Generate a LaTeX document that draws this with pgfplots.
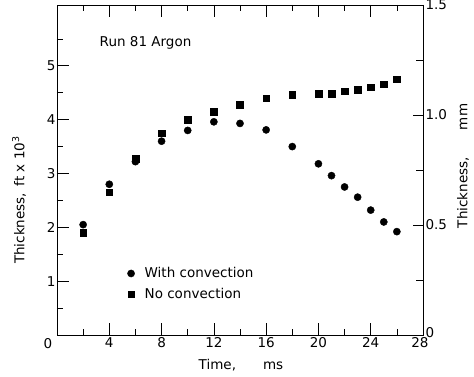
\documentclass[border=0pt]{standalone}
\usepackage{fontspec}
\setmainfont{DejaVu Sans}
\usepackage{pgfplots}
\pgfplotsset{compat=1.18}
\begin{document}
\begin{tikzpicture}[font=\fontsize{13.5}{16}\selectfont]
\pgfplotsset{
  common/.style={
    scale only axis, width=366pt, height=330pt,
    at={(0pt,0pt)}, anchor=south west,
    xmin=0, xmax=28,
    tick align=inside,
    major tick length=12pt, minor tick length=6pt,
    tick style={black, line width=0.7pt},
    axis line style={line width=0.8pt},
    /pgf/number format/assume math mode=true,
    tick label style={font=\fontsize{13.5}{16}\selectfont},
  }
}
\begin{axis}[common,
  ymin=0, ymax=6.13,
  xtick={4,8,12,16,20,24,28},
  xticklabels={4,8,12,16,20,24,\hspace*{-6pt}28},
  minor xtick={2,6,10,14,18,22,26},
  ytick={1,2,3,4,5}, yticklabels={1,2,3,4,5},
  minor ytick={0.5,1.5,2.5,3.5,4.5,5.5},
  ytick pos=left,
  xtick pos=both,
  yticklabel style={xshift=2pt},
  xticklabel style={yshift=1pt},
  legend style={at={(axis cs:5.3,0.95)}, anchor=west, draw=none, fill=none,
    font=\fontsize{13.5}{16}\selectfont, row sep=5pt, inner sep=1pt,
    /tikz/every odd column/.append style={column sep=8pt}},
  legend cell align=left,
]
\addplot[only marks, mark=*, mark size=3.6pt, black] coordinates {
(2,2.05) (4,2.80) (6,3.22) (8,3.60) (10,3.80) (12,3.96) (14,3.93) (16,3.81)
(18,3.50) (20,3.18) (21,2.96) (22,2.75) (23,2.56) (24,2.32) (25,2.10) (26,1.92)
};
\addlegendentry{With convection}
\addplot[only marks, mark=square*, mark size=3.3pt, black] coordinates {
(2,1.90) (4,2.65) (6,3.28) (8,3.75) (10,4.00) (12,4.15) (14,4.28) (16,4.40)
(18,4.46) (20,4.48) (21,4.48) (22,4.53) (23,4.56) (24,4.60) (25,4.66) (26,4.75)
};
\addlegendentry{No convection}
\node[anchor=west] at (axis cs:3.0,5.43) {Run 81 Argon};
\end{axis}
\begin{axis}[common,
  ymin=0, ymax=1.5,
  axis x line=none,
  axis y line*=right,
  ytick={0,0.5,1,1.5}, yticklabels={\raisebox{5pt}{0},0.5,1.0,1.5},
  minor ytick={0.25,0.75,1.25},
  major tick length=10pt, minor tick length=7pt,
  yticklabel style={xshift=-1pt},
]
\end{axis}
\node at (-9pt,-9pt) {0};
\node[rotate=90] at (-38pt,135pt) {Thickness,\enspace ft x 10\textsuperscript{3}};
\node[rotate=90] at (406pt,169pt) {Thickness,\qquad mm};
\node at (184pt,-30pt) {Time,\qquad ms};
\pgfresetboundingbox
\path (-57pt,-42pt) rectangle (417pt,335pt);
\end{tikzpicture}
\end{document}
